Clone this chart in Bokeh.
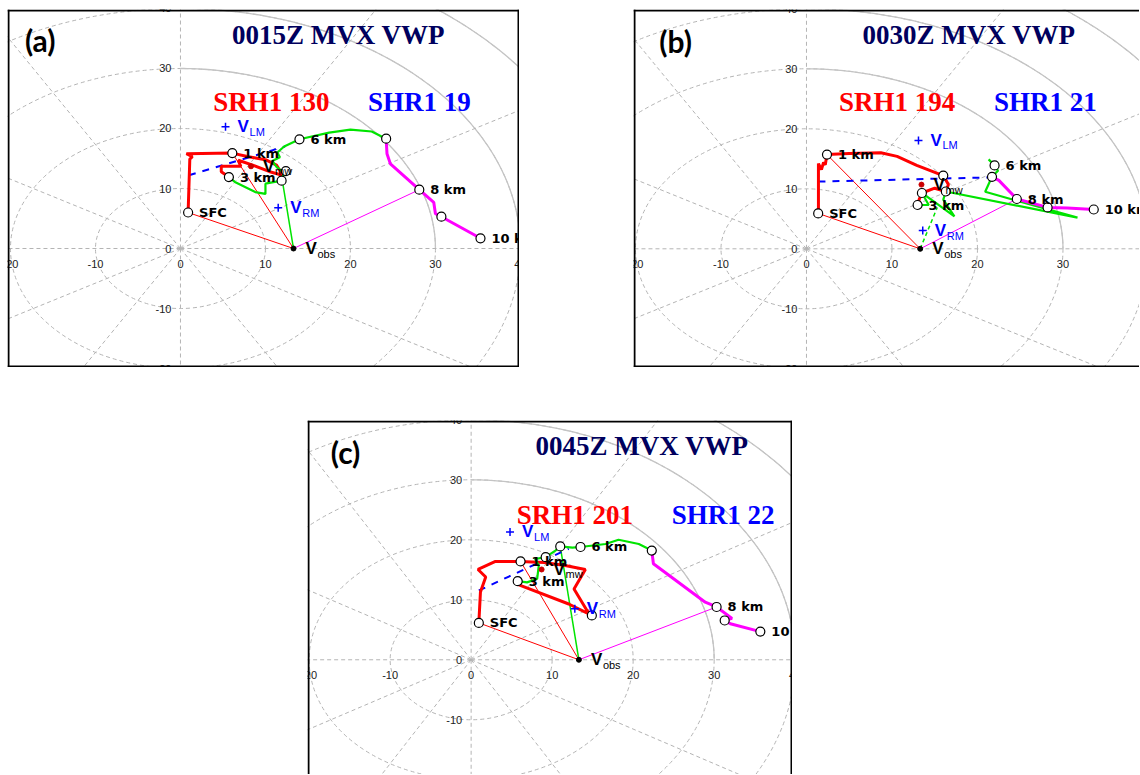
import numpy as np
from bokeh.plotting import figure
from bokeh.layouts import column, row, Spacer
from bokeh.models import Range1d, Span
from bokeh.core.properties import value
from bokeh.embed import file_html
from bokeh.resources import INLINE

# ---------------- data (u, v in m/s) ----------------
# panel (a) 0015Z
A_RED_U = [0.9, 1.1, 1.4, 0.7, 6.1, 8.0, 10.0, 11.3, 12.0, 10.5, 8.5, 6.8, 7.1, 4.8, 4.8, 5.7]
A_RED_V = [6.0, 14.9, 15.3, 15.8, 15.9, 15.3, 14.8, 13.9, 12.2, 12.8, 13.9, 14.7, 13.7, 13.7, 12.8, 11.9]
A_GRN_U = [5.7, 6.4, 8.8, 10.0, 10.0, 11.9, 12.2, 11.3, 10.8, 11.7, 11.4, 12.2, 14.0, 17.5, 20.0, 22.5, 24.2]
A_GRN_V = [11.9, 11.1, 9.4, 9.1, 10.8, 11.3, 12.6, 13.6, 14.6, 15.2, 16.0, 17.0, 18.2, 19.3, 19.8, 19.5, 18.3]
A_MAG_U = [24.2, 24.3, 24.7, 28.1, 29.8, 30.0, 30.7, 35.3]
A_MAG_V = [18.3, 15.8, 14.1, 9.8, 7.7, 5.8, 5.3, 1.7]
A_PT_U = [0.9, 6.1, 5.7, 11.9, 12.4, 14.0, 24.2, 28.1, 30.7, 35.3]
A_PT_V = [6.0, 15.9, 11.9, 11.3, 12.9, 18.2, 18.3, 9.8, 5.3, 1.7]
A_PT_LAB = ["SFC", "1 km", "3 km", "", "", "6 km", "", "8 km", "", "10 km"]
A_BLUE_U = [1.0, 12.3]
A_BLUE_V = [12.2, 17.0]
A_VOBS = [13.3, 0.0]
A_VLM = [5.3, 20.3]
A_VRM = [11.5, 6.8]
A_VMW = [8.3, 13.7]
A_GTHIN = [12.0, 11.2]

# panel (b) 0030Z
B_RED_U = [1.4, 1.4, 1.75, 2.0, 2.2, 2.4, 5.0, 8.7, 10.6, 12.9, 16.0, 16.6, 16.3, 15.0, 13.5, 13.2, 13.0]
B_RED_V = [5.9, 14.2, 13.2, 14.4, 14.0, 15.7, 15.9, 16.0, 15.4, 13.9, 12.2, 10.7, 9.55, 10.1, 9.3, 8.3, 7.3]
B_GRN_U = [13.0, 14.3, 13.5, 14.8, 17.3, 16.0, 16.3, 31.7, 24.6, 20.9, 21.7, 22.4, 22.0, 21.3]
B_GRN_V = [7.3, 7.3, 9.3, 8.0, 5.4, 8.2, 9.55, 5.2, 8.0, 9.5, 12.0, 13.0, 13.9, 14.9]
B_MAG_U = [21.7, 22.5, 24.6, 28.2, 30.5, 33.6]
B_MAG_V = [12.0, 11.4, 8.3, 6.9, 6.8, 6.55]
B_PT_U = [1.37, 2.4, 16.0, 13.5, 16.3, 13.0, 21.7, 22.0, 24.6, 28.2, 33.6]
B_PT_V = [5.9, 15.7, 12.2, 9.3, 9.55, 7.3, 12.0, 13.9, 8.3, 6.9, 6.55]
B_PT_LAB = ["SFC", "1 km", "", "", "", "3 km", "", "6 km", "8 km", "", "10 km"]
B_BLUE_U = [1.4, 21.4]
B_BLUE_V = [11.2, 11.9]
B_VOBS = [13.3, 0.0]
B_VLM = [13.1, 18.05]
B_VRM = [13.6, 3.05]
B_VMW = [13.45, 10.7]
B_GTHIN = [15.3, 6.9]

# panel (c) 0045Z
C_RED_U = [0.95, 1.15, 1.8, 0.85, 3.0, 6.1, 9.0, 11.6, 14.1, 12.7, 14.3, 14.9, 12.05, 5.9, 5.75]
C_RED_V = [6.15, 11.3, 13.8, 15.05, 16.4, 16.4, 16.2, 15.7, 15.05, 11.8, 8.2, 7.4, 9.3, 12.5, 13.1]
C_GRN_U = [5.75, 6.9, 8.15, 8.35, 7.9, 9.2, 10.4, 11.0, 12.5, 13.5, 16.6, 18.2, 20.7, 22.3]
C_GRN_V = [13.1, 12.9, 13.5, 15.7, 16.8, 17.1, 18.2, 18.9, 18.7, 18.8, 19.3, 20.0, 19.3, 18.2]
C_MAG_U = [22.3, 22.5, 28.9, 30.3, 32.2, 31.3, 32.0, 35.7]
C_MAG_V = [18.2, 16.0, 9.6, 8.8, 6.9, 6.55, 6.0, 4.7]
C_PT_U = [0.95, 6.1, 5.75, 9.2, 11.0, 13.5, 22.3, 30.3, 31.3, 35.7, 14.9]
C_PT_V = [6.15, 16.4, 13.1, 17.1, 18.9, 18.8, 18.2, 8.8, 6.55, 4.7, 7.4]
C_PT_LAB = ["SFC", "1 km", "3 km", "", "", "6 km", "", "8 km", "", "10 km", ""]
C_BLUE_U = [0.95, 12.05]
C_BLUE_V = [11.55, 18.5]
C_VOBS = [13.3, 0.0]
C_VLM = [4.8, 21.3]
C_VRM = [12.8, 8.5]
C_VMW = [8.7, 15.05]
C_GTHIN = [11.0, 18.9]

TICKS = [-20, -10, 0, 10, 20, 30, 40]
RINGS = [10, 20, 30, 40, 50, 60]
SOLID_RINGS = [30, 40, 50]
SPOKES_DEG = list(range(0, 360, 30))

TITLES = ["0015Z MVX VWP", "0030Z MVX VWP", "0045Z MVX VWP"]
SRH = ["SRH1 130", "SRH1 194", "SRH1 201"]
SHR = ["SHR1 19", "SHR1 21", "SHR1 22"]
LETTERS = ["(a)", "(b)", "(c)"]

RED = "#ff0000"
GRN = "#00e400"
MAG = "#ff00ff"
BLUE = "#0000ff"
NAVY = "#00005e"
GRID = "#b4b4b4"
SANS = value("Liberation Sans")
SERIF = value("Liberation Serif")


def make_panel(k, red, grn, mag, pts, lab, blue, vobs, vlm, vrm, vmw, gthin, gthin_dash,
               xr, yr, w, h, pos, sides):
    p = figure(width=w, height=h, x_range=Range1d(*xr), y_range=Range1d(*yr),
               output_backend="svg", toolbar_location=None, min_border=0,
               x_axis_location=None, y_axis_location=None,
               background_fill_color="white", border_fill_color="white")
    p.grid.visible = False
    p.outline_line_color = None
    sx = w / (xr[1] - xr[0])
    sy = h / (yr[1] - yr[0])

    # polar grid
    for r in RINGS:
        p.ellipse(x=0, y=0, width=2 * r, height=2 * r, fill_color=None,
                  line_color=GRID, line_dash="4 3", line_width=1)
    th = np.linspace(0, np.pi / 2, 120)
    p.multi_line(xs=[list(r * np.cos(th)) for r in SOLID_RINGS],
                 ys=[list(r * np.sin(th)) for r in SOLID_RINGS],
                 line_color="#c4c4c4", line_width=1.3)
    ang = np.radians(SPOKES_DEG)
    p.segment(x0=0, y0=0, x1=list(80 * np.cos(ang)), y1=list(80 * np.sin(ang)),
              line_color=GRID, line_dash="4 3", line_width=1)

    # axis numbers
    p.text(x=TICKS, y=[0] * len(TICKS), text=[str(t) for t in TICKS], y_offset=15,
           text_align="center", text_baseline="middle", text_font=SANS,
           text_font_size="11px", text_color="#222222")
    p.text(x=[0] * len(TICKS), y=TICKS, text=[str(t) for t in TICKS], x_offset=-9,
           text_align="right", text_baseline="middle", text_font=SANS,
           text_font_size="11px", text_color="#222222")

    # thin storm-relative lines
    p.segment(x0=[vobs[0]] * 2, y0=[vobs[1]] * 2, x1=[pts[0][0], pts[0][1]],
              y1=[pts[1][0], pts[1][1]], line_color=RED, line_width=1)
    p.segment(x0=[vobs[0]], y0=[vobs[1]], x1=[gthin[0]], y1=[gthin[1]],
              line_color=GRN, line_width=1.5, line_dash="4 3" if gthin_dash else "solid")
    i8 = lab.index("8 km")
    p.segment(x0=[vobs[0]], y0=[vobs[1]], x1=[pts[0][i8]], y1=[pts[1][i8]],
              line_color=MAG, line_width=1)

    # blue dashed
    p.line(blue[0], blue[1], line_color=BLUE, line_width=2, line_dash="7 7")

    # hodograph
    p.line(red[0], red[1], line_color=RED, line_width=3)
    p.line(grn[0], grn[1], line_color=GRN, line_width=2.2)
    p.line(mag[0], mag[1], line_color=MAG, line_width=3)

    p.scatter(pts[0], pts[1], marker="circle", size=9, fill_color="white",
              line_color="black", line_width=1.2)
    p.text(x=pts[0], y=pts[1], text=lab, x_offset=11, text_align="left",
           text_baseline="middle", text_font=value("DejaVu Sans"), text_font_style="bold",
           text_font_size="13px", text_color="black")

    # markers
    p.scatter([vobs[0]], [vobs[1]], marker="circle", size=5, fill_color="black",
              line_color="black")
    p.scatter([vmw[0]], [vmw[1]], marker="circle", size=5, fill_color="#cc0000",
              line_color="#cc0000")
    p.scatter([vlm[0], vrm[0]], [vlm[1], vrm[1]], marker="cross", size=8,
              line_color=BLUE, line_width=1.5)

    # V labels
    vx = [vobs[0], vmw[0], vlm[0], vrm[0]]
    vy = [vobs[1], vmw[1], vlm[1], vrm[1]]
    vc = ["black", "black", BLUE, BLUE]
    p.text(x=vx, y=vy, text=["V"] * 4, x_offset=12, text_align="left",
           text_baseline="middle", text_font=SANS, text_font_style="bold",
           text_font_size="17px", text_color=vc)
    p.text(x=vx, y=vy, text=["obs", "mw", "LM", "RM"], x_offset=24, y_offset=5,
           text_align="left", text_baseline="middle", text_font=SANS,
           text_font_size="11px", text_color=vc)

    # titles
    p.text(x=[pos["title"][0]], y=[pos["title"][1]], text=[TITLES[k]],
           text_align="center", text_baseline="middle", text_font=SERIF,
           text_font_style="bold", text_font_size="27px", text_color=NAVY)
    p.text(x=[pos["srh"][0]], y=[pos["srh"][1]], text=[SRH[k]],
           text_align="center", text_baseline="middle", text_font=SERIF,
           text_font_style="bold", text_font_size="27px", text_color=RED)
    p.text(x=[pos["shr"][0]], y=[pos["shr"][1]], text=[SHR[k]],
           text_align="center", text_baseline="middle", text_font=SERIF,
           text_font_style="bold", text_font_size="27px", text_color=BLUE)
    p.text(x=[pos["let"][0]], y=[pos["let"][1]], text=[LETTERS[k]],
           text_align="center", text_baseline="middle", text_font=value("Lato"),
           text_font_style="bold", text_font_size="30px", text_color="black")

    # frame
    dx = 1.0 / sx
    dy = 1.0 / sy
    if "left" in sides:
        p.add_layout(Span(location=xr[0] + dx, dimension="height", line_color="black", line_width=2))
    if "right" in sides:
        p.add_layout(Span(location=xr[1] - dx, dimension="height", line_color="black", line_width=2))
    if "top" in sides:
        p.add_layout(Span(location=yr[1] - dy, dimension="width", line_color="black", line_width=2))
    if "bottom" in sides:
        p.add_layout(Span(location=yr[0] + dy, dimension="width", line_color="black", line_width=2))
    return p


fa = make_panel(0, (A_RED_U, A_RED_V), (A_GRN_U, A_GRN_V), (A_MAG_U, A_MAG_V),
                (A_PT_U, A_PT_V), A_PT_LAB, (A_BLUE_U, A_BLUE_V), A_VOBS, A_VLM, A_VRM,
                A_VMW, A_GTHIN, False, (-20.35, 39.89), (-19.83, 39.83), 512, 358,
                {"title": (18.6, 35.5), "srh": (10.7, 24.4), "shr": (28.1, 24.4), "let": (-16.5, 34.7)},
                ["left", "right", "top", "bottom"])
fb = make_panel(1, (B_RED_U, B_RED_V), (B_GRN_U, B_GRN_V), (B_MAG_U, B_MAG_V),
                (B_PT_U, B_PT_V), B_PT_LAB, (B_BLUE_U, B_BLUE_V), B_VOBS, B_VLM, B_VRM,
                B_VMW, B_GTHIN, True, (-20.23, 38.95), (-19.78, 39.88), 506, 358,
                {"title": (19.0, 35.55), "srh": (10.6, 24.4), "shr": (27.95, 24.4), "let": (-15.3, 34.7)},
                ["left", "top", "bottom"])
fc = make_panel(2, (C_RED_U, C_RED_V), (C_GRN_U, C_GRN_V), (C_MAG_U, C_MAG_V),
                (C_PT_U, C_PT_V), C_PT_LAB, (C_BLUE_U, C_BLUE_V), C_VOBS, C_VLM, C_VRM,
                C_VMW, C_GTHIN, False, (-20.2, 39.67), (-19.12, 39.88), 485, 354,
                {"title": (21.1, 35.7), "srh": (12.8, 24.2), "shr": (31.1, 24.2), "let": (-15.5, 34.6)},
                ["left", "right", "top"])

layout = column(
    Spacer(width=10, height=9),
    row(Spacer(width=7, height=358), fa, Spacer(width=114, height=358), fb),
    Spacer(width=10, height=53),
    row(Spacer(width=307, height=354), fc),
)

open("out.html", "w").write(file_html(layout, INLINE))
